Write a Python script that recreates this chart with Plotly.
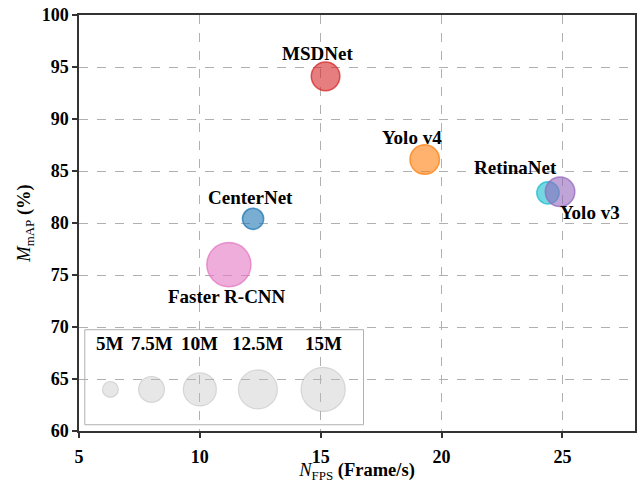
import numpy as np
import plotly.graph_objects as go

# Detector comparison: speed vs accuracy, bubble area = parameter count
models = ["Faster R-CNN", "CenterNet", "MSDNet", "Yolo v4", "RetinaNet", "Yolo v3"]
fps = [11.2, 12.2, 15.2, 19.3, 24.4, 24.9]
map_pct = [76.0, 80.4, 94.1, 86.1, 82.9, 83.0]
params_m = [15.0, 6.2, 8.4, 8.7, 6.5, 8.7]
colors = ["#e377c2", "#1f77b4", "#d62728", "#ff7f0e", "#17becf", "#9467bd"]

# label placement relative to each bubble (pixels)
label_dx = [-2, -3, -8, -13, -32, 30]
label_dy = [-32, 21, 23, 22, 25, -21]

# size key
key_params = [5, 7.5, 10, 12.5, 15]
key_labels = ["5M", "7.5M", "10M", "12.5M", "15M"]
key_x = [6.3, 8.0, 10.0, 12.4, 15.1]
key_y = 64.0

FONT = "Liberation Serif"
LABEL_SIZE = 19
TICK_SIZE = 18
TITLE_SIZE = 18.5


def diameter(m):
    m = np.asarray(m, dtype=float)
    return 2 * np.sqrt(44.5 * m - 147.5) - 1.5


def rgba(hex_color, a):
    h = hex_color.lstrip("#")
    r, g, b = int(h[0:2], 16), int(h[2:4], 16), int(h[4:6], 16)
    return f"rgba({r},{g},{b},{a})"


fig = go.Figure()

# size key bubbles
fig.add_trace(go.Scatter(
    x=key_x, y=[key_y] * len(key_x), mode="markers",
    marker=dict(size=diameter(key_params), color="rgba(190,190,190,0.5)",
                line=dict(color="rgba(170,170,170,0.6)", width=1.2)),
    hoverinfo="skip", showlegend=False,
))

for i, name in enumerate(models):
    fig.add_trace(go.Scatter(
        x=[fps[i]], y=[map_pct[i]], mode="markers", name=name,
        marker=dict(size=diameter([params_m[i]])[0], color=rgba(colors[i], 0.6),
                    line=dict(color=rgba(colors[i], 0.75), width=1.5)),
        showlegend=False,
    ))
    fig.add_annotation(
        x=fps[i], y=map_pct[i], text=f"<b>{name}</b>", showarrow=False,
        xshift=label_dx[i], yshift=label_dy[i],
        font=dict(family=FONT, size=LABEL_SIZE, color="black"),
    )

for xk, lab in zip(key_x, key_labels):
    fig.add_annotation(
        x=xk, y=key_y, text=f"<b>{lab}</b>", showarrow=False, yshift=46,
        font=dict(family=FONT, size=LABEL_SIZE, color="black"),
    )

fig.add_shape(type="rect", x0=5.24, x1=16.77, y0=60.6, y1=69.74,
              xref="x", yref="y", line=dict(color="#b0b0b0", width=1),
              fillcolor="rgba(0,0,0,0)", layer="above")

axis_common = dict(
    showgrid=True, gridcolor="#b0b0b0", griddash="dash", gridwidth=1,
    showline=True, linecolor="#333333", linewidth=1.5, mirror=True,
    ticks="outside", ticklen=5, tickwidth=1.5, tickcolor="#333333",
    zeroline=False, automargin=False,
    tickfont=dict(family=FONT, size=TICK_SIZE, color="black", weight="bold"),
)

fig.update_xaxes(
    range=[5, 28], tickvals=[5, 10, 15, 20, 25], **axis_common,
    ticklabelstandoff=4,
    title=dict(text="<i>N</i><sub>FPS</sub> <b>(Frame/s)</b>",
               font=dict(family=FONT, size=TITLE_SIZE, color="black"), standoff=5),
)
fig.update_yaxes(
    range=[60, 100], tickvals=list(range(60, 101, 5)), **axis_common,
    title=dict(text="<i>M</i><sub>mAP</sub> <b>(%)</b>",
               font=dict(family=FONT, size=TITLE_SIZE, color="black"), standoff=6),
)

fig.update_layout(
    width=641, height=483,
    margin=dict(l=79, r=6, t=15, b=52),
    plot_bgcolor="white", paper_bgcolor="white",
)

fig.write_html("out.html")
